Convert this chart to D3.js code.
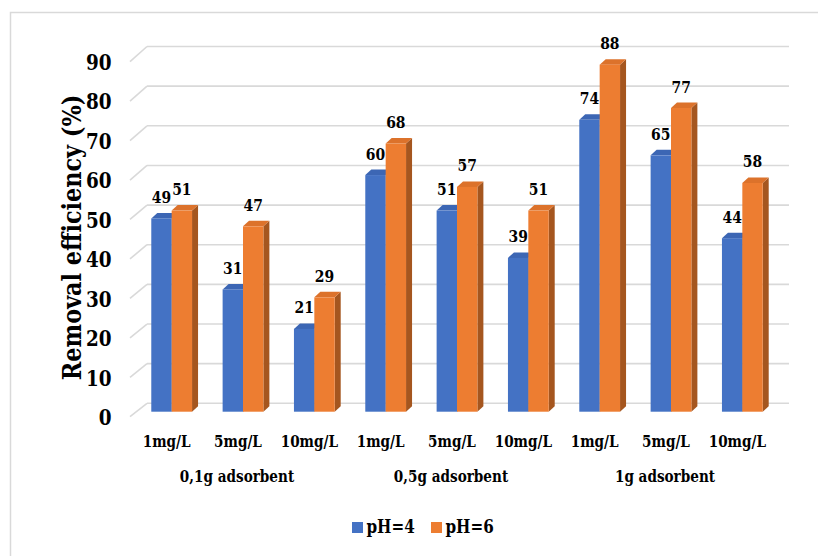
<!DOCTYPE html>
<html>
<head>
<meta charset="utf-8">
<script src="https://cdn.jsdelivr.net/npm/d3@7/dist/d3.min.js"></script>
<style>
  html, body { margin: 0; padding: 0; background: #ffffff; }
  svg { display: block; }
</style>
</head>
<body>
<svg id="chart" width="818" height="556"></svg>
<script>
// Removal efficiency by dye concentration and adsorbent dose, two pH levels
const categories = ["1mg/L", "5mg/L", "10mg/L", "1mg/L", "5mg/L", "10mg/L", "1mg/L", "5mg/L", "10mg/L"];
const groups = ["0,1g adsorbent", "0,5g adsorbent", "1g adsorbent"];
const seriesNames = ["pH=4", "pH=6"];
const ph4 = [49, 31, 21, 60, 51, 39, 74, 65, 44];
const ph6 = [51, 47, 29, 68, 57, 51, 88, 77, 58];
const yTicks = [0, 10, 20, 30, 40, 50, 60, 70, 80, 90];

const series = [ph4, ph6];
const colors = [
  { front: "#4472C4", top: "#3C66B4", side: "#2F5597" },
  { front: "#ED7D31", top: "#DC722B", side: "#A5561F" }
];
const FONT = "'DejaVu Serif', serif";

const svg = d3.select("#chart").attr("font-family", FONT);

// Chart-area border
svg.append("rect")
  .attr("x", 10.5).attr("y", 12.5)
  .attr("width", 830).attr("height", 570)
  .attr("fill", "none").attr("stroke", "#d9d9d9").attr("stroke-width", 1.5);

// Front plane of the 3-D box, and its depth vector
const idx = d3.range(categories.length);
const xFront = d3.scaleBand().domain(idx).range([130, 772]).paddingInner(0).paddingOuter(0);
const yFront = d3.scaleLinear().domain([0, 90]).range([416.7, 61.7]);
const yBack = d3.scaleLinear().domain([0, 90]).range([403.3, 46.5]);
const wallDX = 17;

// Bars sit part-way into the box
const barShiftX = 6;
const yBar = d3.scaleLinear().domain([0, 90]).range([411.7, 411.7 - 90 * 3.944]);
const barDX = 6, barDY = -5.5;
const bw = xFront.bandwidth() / 3.5; // gap width 150%

// Gridlines: back wall and left wall diagonals
const grid = svg.append("g").attr("stroke", "#d9d9d9").attr("stroke-width", 1.6).attr("fill", "none");
yTicks.forEach(t => {
  grid.append("line")
    .attr("x1", 130 + wallDX).attr("x2", 772 + wallDX)
    .attr("y1", yBack(t)).attr("y2", yBack(t));
  grid.append("line")
    .attr("x1", 130).attr("y1", yFront(t))
    .attr("x2", 130 + wallDX).attr("y2", yBack(t));
});

// Y tick labels
const tickG = svg.append("g");
yTicks.forEach(t => {
  tickG.append("g")
    .attr("transform", `translate(111.5,${yFront(t)}) scale(0.8,1)`)
    .append("text")
    .attr("text-anchor", "end")
    .attr("dy", "0.36em")
    .attr("font-size", 23)
    .attr("font-weight", "bold")
    .text(t);
});

// Y axis title
svg.append("g")
  .attr("transform", "translate(81,237.5) rotate(-90) scale(0.86,1)")
  .append("text")
  .attr("text-anchor", "middle")
  .attr("font-size", 26)
  .attr("font-weight", "bold")
  .text("Removal efficiency (%)");

// 3-D bars
const bars = svg.append("g");
idx.forEach(i => {
  const cx = xFront(i) + xFront.bandwidth() / 2 + barShiftX;
  series.forEach((vals, s) => {
    const v = vals[i];
    const x0 = cx - bw + s * bw;
    const x1 = x0 + bw;
    const yb = yBar(0), yt = yBar(v);
    const c = colors[s];
    // side face
    bars.append("path")
      .attr("d", `M${x1},${yt} L${x1 + barDX},${yt + barDY} L${x1 + barDX},${yb + barDY} L${x1},${yb} Z`)
      .attr("fill", c.side);
    // top face
    bars.append("path")
      .attr("d", `M${x0},${yt} L${x0 + barDX},${yt + barDY} L${x1 + barDX},${yt + barDY} L${x1},${yt} Z`)
      .attr("fill", c.top);
    // front face
    bars.append("rect")
      .attr("x", x0).attr("y", yt)
      .attr("width", bw).attr("height", yb - yt)
      .attr("fill", c.front);
  });
});

// Compressed text helper: places a scaled text at (x, y)
function label(parent, x, y, str, size, sx, anchor) {
  parent.append("g")
    .attr("transform", `translate(${x},${y}) scale(${sx},1)`)
    .append("text")
    .attr("text-anchor", anchor)
    .attr("font-size", size)
    .attr("font-weight", "bold")
    .text(str);
}

// Value labels
const labels = svg.append("g");
idx.forEach(i => {
  const cx = xFront(i) + xFront.bandwidth() / 2 + barShiftX;
  series.forEach((vals, s) => {
    const v = vals[i];
    const xm = cx - bw + s * bw + bw / 2;
    label(labels, xm, yBar(v) - 15.5, v, 17, 0.82, "middle");
  });
});

// Category labels
const catG = svg.append("g");
idx.forEach(i => {
  label(catG, xFront(i) + xFront.bandwidth() / 2 + 1, 446.5, categories[i], 17, 0.8, "middle");
});

// Group labels
const grpG = svg.append("g");
groups.forEach((g, k) => {
  const mid = xFront(k * 3 + 1) + xFront.bandwidth() / 2;
  label(grpG, mid, 482, g, 17, 0.8, "middle");
});

// Legend
const legendX = [352, 431];
const legG = svg.append("g");
seriesNames.forEach((name, s) => {
  legG.append("rect")
    .attr("x", legendX[s]).attr("y", 522)
    .attr("width", 11).attr("height", 11)
    .attr("fill", colors[s].front);
  label(legG, legendX[s] + 14.5, 533, name, 19, 0.8, "start");
});
</script>
</body>
</html>
